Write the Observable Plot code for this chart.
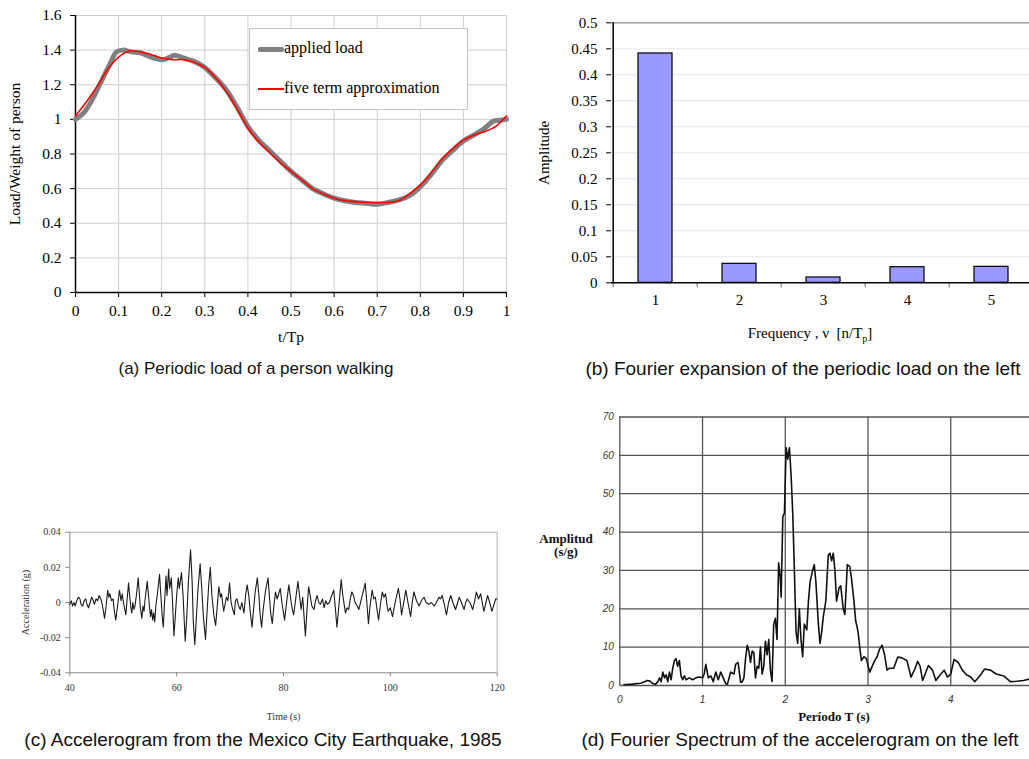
<!DOCTYPE html>
<html><head><meta charset="utf-8">
<script src="https://cdn.jsdelivr.net/npm/d3@7"></script>
<script src="https://cdn.jsdelivr.net/npm/@observablehq/plot@0.6"></script>
<style>
html,body{margin:0;padding:0;background:#fff;overflow:hidden;}
#root{position:relative;width:1029px;height:759px;overflow:hidden;background:#fff;}
.panel{position:absolute;}
.cap{position:absolute;font-family:"Liberation Sans",Arial,sans-serif;font-size:19px;color:#111;white-space:nowrap;transform:translateX(-50%);line-height:20px;}
.serif{font-family:"Liberation Serif","Times New Roman",serif;}
</style></head><body><div id="root"></div>
<script>
// ---------- Panel (a): periodic load ----------
const aTimeApplied = [0,0.02,0.04,0.06,0.08,0.095,0.11,0.13,0.15,0.175,0.2,0.21,0.23,0.25,0.275,0.3,0.325,0.35,0.375,0.4,0.425,0.45,0.475,0.5,0.525,0.55,0.575,0.6,0.625,0.65,0.675,0.7,0.725,0.75,0.775,0.8,0.825,0.85,0.875,0.9,0.925,0.95,0.97,0.985,1.0];
const aApplied     = [1.0,1.04,1.12,1.22,1.32,1.39,1.40,1.39,1.385,1.36,1.345,1.35,1.37,1.355,1.335,1.30,1.24,1.17,1.07,0.96,0.88,0.82,0.76,0.70,0.65,0.60,0.57,0.545,0.53,0.52,0.515,0.51,0.52,0.535,0.56,0.61,0.68,0.76,0.82,0.875,0.91,0.95,0.99,0.995,1.0];
const aTimeApprox  = [0,0.025,0.05,0.075,0.1,0.125,0.15,0.175,0.2,0.225,0.25,0.275,0.3,0.325,0.35,0.375,0.4,0.425,0.45,0.475,0.5,0.525,0.55,0.575,0.6,0.625,0.65,0.675,0.7,0.725,0.75,0.775,0.8,0.825,0.85,0.875,0.9,0.925,0.95,0.975,1.0];
const aApprox      = [1.02,1.10,1.19,1.29,1.36,1.395,1.39,1.375,1.355,1.345,1.345,1.33,1.30,1.24,1.16,1.06,0.95,0.87,0.81,0.75,0.70,0.65,0.60,0.57,0.545,0.53,0.525,0.52,0.52,0.52,0.53,0.57,0.62,0.69,0.77,0.83,0.88,0.91,0.93,0.96,1.02];
const aXTicks = [0,0.1,0.2,0.3,0.4,0.5,0.6,0.7,0.8,0.9,1];
const aYTicks = [0,0.2,0.4,0.6,0.8,1,1.2,1.4,1.6];
const aLegend = ["applied load","five term approximation"];

// ---------- Panel (b): Fourier expansion ----------
const bHarmonics = ["1","2","3","4","5"];
const bAmplitude = [0.441,0.0365,0.0102,0.030,0.0307];
const bYTicks = [0,0.05,0.1,0.15,0.2,0.25,0.3,0.35,0.4,0.45,0.5];

// ---------- Panel (c): accelerogram ----------
const cTime = [40.0,40.3,40.5,40.8,41.0,41.3,41.6,41.9,42.1,42.4,42.7,43.0,43.2,43.5,43.8,44.1,44.4,44.6,44.9,45.2,45.5,45.8,46.0,46.3,46.5,46.8,47.1,47.3,47.5,47.8,48.1,48.3,48.6,48.9,49.1,49.3,49.6,49.8,50.1,50.3,50.5,50.7,51.0,51.2,51.4,51.6,51.8,52.0,52.2,52.5,52.8,53.0,53.2,53.5,53.7,53.9,54.1,54.5,54.7,54.9,55.1,55.3,55.5,55.7,55.9,56.1,56.4,56.8,57.0,57.3,57.5,57.7,58.0,58.2,58.5,58.7,59.0,59.2,59.5,59.7,60.0,60.3,60.5,60.9,61.2,61.6,61.9,62.2,62.6,62.9,63.1,63.4,63.7,64.0,64.4,64.7,65.0,65.4,65.7,66.0,66.3,66.6,67.0,67.3,67.6,67.9,68.2,68.4,68.8,69.0,69.3,69.6,69.9,70.2,70.5,70.8,71.0,71.3,71.6,71.9,72.2,72.6,72.9,73.2,73.5,73.8,74.1,74.4,74.7,75.1,75.4,75.6,75.9,76.2,76.6,77.1,77.4,77.6,77.9,78.2,78.5,78.8,79.0,79.4,79.7,80.2,80.5,81.0,81.3,81.6,81.9,82.2,82.7,83.0,83.3,83.6,83.8,84.1,84.4,84.7,85.0,85.3,85.7,86.0,86.3,86.6,86.9,87.3,87.6,87.9,88.2,88.6,88.9,89.4,89.7,90.0,90.3,90.8,91.1,91.6,91.9,92.2,92.5,92.8,93.1,93.4,93.8,94.1,94.5,95.3,95.6,95.9,96.2,96.6,96.9,97.2,97.5,97.8,98.1,98.5,98.8,99.1,99.4,99.6,100.0,100.4,100.9,101.5,101.8,102.1,102.5,102.9,103.3,103.8,104.1,104.4,104.9,105.4,105.8,106.3,106.7,107.2,107.7,108.2,108.6,109.1,109.4,109.7,110.1,110.5,110.9,111.3,111.7,112.2,112.6,112.9,113.3,113.8,114.1,114.4,114.9,115.4,115.8,116.1,116.5,116.9,117.2,117.5,117.9,118.2,118.6,119.0,119.4,119.7,120.0];
const cAccel = [-0.001,0.001,-0.002,0.000,-0.002,0.001,0.003,0.002,-0.001,-0.002,0.001,0.002,-0.001,-0.003,0.000,0.003,0.001,-0.001,0.002,0.001,0.004,0.002,0.000,-0.005,-0.009,-0.002,0.007,0.003,0.005,0.001,0.002,-0.004,-0.010,-0.003,0.002,0.007,0.001,0.005,-0.001,-0.004,-0.007,0.001,0.011,0.004,-0.002,-0.006,0.000,-0.004,-0.002,0.005,0.014,0.006,-0.003,-0.009,-0.002,-0.005,0.002,0.012,0.005,-0.002,-0.008,-0.004,-0.010,-0.006,-0.011,-0.002,0.005,0.016,0.006,-0.008,-0.014,-0.002,0.015,0.004,0.019,0.008,0.014,0.002,-0.019,-0.010,0.004,0.014,0.008,0.017,0.004,-0.022,-0.008,0.012,0.030,0.012,-0.010,-0.024,-0.008,0.008,0.022,0.008,-0.008,-0.021,-0.005,0.010,0.020,0.004,-0.008,-0.013,-0.002,0.009,0.003,0.005,-0.005,-0.002,0.003,0.001,0.011,0.000,-0.004,-0.007,0.001,0.002,-0.002,-0.004,0.000,-0.006,0.004,0.010,0.004,-0.006,-0.014,-0.004,0.006,0.014,0.004,-0.006,-0.014,-0.004,0.006,0.014,0.002,-0.006,-0.012,-0.002,0.006,0.002,0.004,0.008,0.000,-0.010,-0.002,0.010,0.003,-0.003,-0.007,0.000,0.012,0.004,-0.004,0.003,-0.006,-0.019,-0.004,0.009,0.004,-0.002,-0.004,0.001,0.004,0.000,-0.001,0.002,-0.003,0.001,-0.001,0.000,0.003,0.007,-0.003,-0.014,-0.004,0.013,0.004,-0.006,-0.003,-0.004,0.002,0.006,0.004,0.000,-0.002,-0.004,0.001,0.011,0.000,-0.012,-0.002,0.007,0.002,0.003,-0.004,-0.010,-0.002,0.006,0.003,0.005,-0.002,-0.005,-0.003,-0.008,0.000,0.008,0.002,-0.007,0.000,0.007,0.000,-0.008,0.000,0.006,0.001,-0.002,0.001,0.003,0.000,-0.001,0.000,-0.002,0.000,0.003,0.002,0.004,-0.001,-0.007,0.000,0.004,0.000,-0.004,0.000,0.003,0.000,-0.004,0.000,0.002,0.000,-0.004,0.001,0.006,0.002,0.005,0.000,-0.005,0.000,0.004,0.000,-0.005,-0.001,0.002,0.002];
const cXTicks = [40,60,80,100,120];
const cYTicks = [-0.04,-0.02,0,0.02,0.04];
const cYLabels = ["-0.04","-0.02","0","0.02","0.04"];

// ---------- Panel (d): Fourier spectrum ----------
const dPeriod = [0.05,0.1,0.15,0.2,0.25,0.3,0.33,0.36,0.4,0.43,0.46,0.48,0.5,0.52,0.54,0.56,0.58,0.6,0.62,0.64,0.66,0.68,0.7,0.72,0.74,0.76,0.78,0.8,0.84,0.88,0.92,0.96,1.0,1.02,1.04,1.07,1.1,1.13,1.16,1.19,1.22,1.25,1.28,1.3,1.34,1.38,1.4,1.43,1.46,1.48,1.5,1.52,1.54,1.56,1.58,1.6,1.62,1.64,1.66,1.68,1.7,1.72,1.74,1.76,1.78,1.8,1.82,1.84,1.86,1.88,1.9,1.92,1.94,1.95,1.97,1.99,2.01,2.03,2.05,2.07,2.09,2.11,2.13,2.15,2.17,2.19,2.21,2.23,2.26,2.28,2.3,2.33,2.35,2.37,2.4,2.42,2.44,2.46,2.49,2.52,2.54,2.56,2.58,2.6,2.62,2.65,2.67,2.7,2.72,2.75,2.78,2.8,2.83,2.85,2.88,2.9,2.92,2.95,2.98,3.02,3.05,3.08,3.11,3.14,3.17,3.2,3.23,3.26,3.31,3.36,3.41,3.47,3.52,3.56,3.6,3.63,3.66,3.69,3.73,3.78,3.82,3.86,3.92,3.96,4.0,4.04,4.09,4.14,4.19,4.24,4.29,4.35,4.41,4.48,4.55,4.64,4.72,4.8,4.88,4.95,5.0];
const dAmp = [0.2,0.3,0.3,0.5,0.6,1.0,1.3,1.2,0.5,0.3,1.0,2.0,1.0,3.5,2.0,2.8,1.0,3.5,1.5,4.5,6.5,7.0,5.0,6.5,2.5,1.5,2.5,1.5,2.0,1.5,2.0,2.2,2.0,3.0,5.5,2.0,2.5,1.0,3.5,1.5,3.5,2.0,0.5,0.3,3.5,3.0,5.5,6.0,0.8,1.0,2.0,7.0,10.5,9.0,6.0,9.0,8.5,2.0,5.0,4.5,10.0,3.0,5.0,11.5,8.0,12.0,4.0,1.0,16.0,17.5,12.0,32.0,28.0,23.0,44.0,45.0,62.0,59.0,62.0,55.0,45.0,30.0,14.0,11.0,20.0,12.0,7.5,16.0,14.5,22.0,27.0,30.0,31.5,27.0,16.0,11.0,14.0,18.0,22.0,34.0,34.5,32.5,34.5,30.0,22.0,25.5,26.0,20.0,18.5,31.5,31.0,28.0,22.0,17.0,14.0,10.0,6.5,7.5,7.0,3.5,5.0,6.5,7.5,9.5,10.5,8.0,4.0,4.5,4.5,7.4,7.2,6.5,2.2,4.0,6.3,5.0,1.3,3.0,5.2,4.0,1.3,2.5,4.0,2.2,3.0,6.8,6.0,4.0,2.8,2.2,1.0,2.5,4.3,4.0,3.0,2.5,1.0,1.1,1.3,1.7,2.2,2.3];
const dGrid = [0,1,2,3,4,5];
const dXTicks = [0,1,2,3,4];
const dYTicks = [0,10,20,30,40,50,60,70];

const root = document.getElementById("root");
function place(node, left, top) {
  node.classList.add("panel");
  node.style.left = left + "px";
  node.style.top = top + "px";
  root.appendChild(node);
  return node;
}
function html(tag, cls, style, inner) {
  const el = document.createElement(tag);
  if (cls) el.className = cls;
  el.setAttribute("style", style);
  el.innerHTML = inner;
  root.appendChild(el);
  return el;
}
const serif = '"Liberation Serif","Times New Roman",serif';
const sans = '"Liberation Sans",Arial,sans-serif';

// ---- (a)
const appliedData = aTimeApplied.map((t, i) => ({t, v: aApplied[i]}));
const approxData = aTimeApprox.map((t, i) => ({t, v: aApprox[i]}));
const chartA = Plot.plot({
  width: 520, height: 345,
  marginLeft: 75, marginRight: 14, marginTop: 15, marginBottom: 53,
  style: {fontFamily: serif, fontSize: "15px", color: "#000", background: "none", overflow: "visible"},
  x: {domain: [0, 1]},
  y: {domain: [0, 1.6]},
  marks: [
    Plot.gridX(aXTicks, {stroke: "#cfcfcf", strokeOpacity: 1}),
    Plot.gridY(aYTicks, {stroke: "#cfcfcf", strokeOpacity: 1}),
    Plot.axisX({ticks: aXTicks, tickFormat: d => String(d), tickSize: 5, tickPadding: 7, fontSize: 15.5, label: "t/Tp", labelAnchor: "center", labelOffset: 49, labelArrow: "none"}),
    Plot.axisY({ticks: aYTicks, tickFormat: d => String(d), tickSize: 5, tickPadding: 9, fontSize: 15.5, label: "Load/Weight of person", labelAnchor: "center", labelOffset: 67, labelArrow: "none"}),
    Plot.ruleX([0], {stroke: "#000", strokeWidth: 1.5}),
    Plot.ruleY([0], {stroke: "#000", strokeWidth: 1.5}),
    Plot.line(appliedData, {x: "t", y: "v", stroke: "#808080", strokeWidth: 5, curve: "catmull-rom"}),
    Plot.line(approxData, {x: "t", y: "v", stroke: "#ff0000", strokeWidth: 1.6, curve: "catmull-rom"})
  ]
});
place(chartA, 0, 0);
// legend (a)
html("div", "serif", "position:absolute;left:249px;top:28px;width:217px;height:80px;border:1px solid #c4c4c4;background:#fff;", "");
html("div", "", "position:absolute;left:258px;top:47px;width:26px;height:5px;background:#808080;border-radius:2px;", "");
html("div", "serif", "position:absolute;left:284px;top:38px;font-size:16px;line-height:20px;color:#000;white-space:nowrap;", aLegend[0]);
html("div", "", "position:absolute;left:258px;top:88px;width:26px;height:1.6px;background:#ff0000;", "");
html("div", "serif", "position:absolute;left:284px;top:78px;font-size:16px;line-height:20px;color:#000;white-space:nowrap;", aLegend[1]);

// ---- (b)
const bData = bHarmonics.map((h, i) => ({h, a: bAmplitude[i]}));
const chartB = Plot.plot({
  width: 520, height: 345,
  marginLeft: 91, marginRight: 6.4, marginTop: 22.3, marginBottom: 62.7,
  style: {fontFamily: serif, fontSize: "15px", color: "#000", background: "none", overflow: "visible"},
  x: {domain: bHarmonics, paddingInner: 0.6, paddingOuter: 0.3},
  y: {domain: [0, 0.5]},
  marks: [
    Plot.gridY(bYTicks.slice(1, -1), {stroke: "#e6e6e6", strokeOpacity: 1}),
    Plot.ruleY([0.5], {stroke: "#8c8c8c", strokeWidth: 1.2}),
    Plot.barY(bData, {x: "h", y: "a", fill: "#9999ff", stroke: "#000", strokeWidth: 1.2}),
    Plot.axisX({tickSize: 0, tickPadding: 12, label: null}),
    Plot.axisX({tickSize: 5, tickFormat: () => "", dx: -42.3, stroke: "#666", label: null}),
    Plot.axisY({ticks: bYTicks, tickFormat: d => String(d), tickSize: 5, tickPadding: 9, label: "Amplitude", labelAnchor: "center", labelOffset: 73, labelArrow: "none"}),
    Plot.ruleY([0], {stroke: "#000", strokeWidth: 1.5}),
    Plot.ruleX([0], {x: () => bHarmonics[0], dx: -42.3, y1: 0, y2: 0.5, stroke: "#000", strokeWidth: 1.5})
  ]
});
place(chartB, 520, 0);
html("div", "serif", "position:absolute;left:810px;top:324px;transform:translateX(-50%);font-size:15px;line-height:18px;white-space:nowrap;color:#000;", "Frequency , &nu;&nbsp; [n/T<sub style='font-size:10px'>p</sub>]");

// ---- (c)
const cData = cTime.map((t, i) => ({t, a: cAccel[i]}));
const chartC = Plot.plot({
  width: 520, height: 230,
  marginLeft: 69.3, marginRight: 23.3, marginTop: 31.7, marginBottom: 57.7,
  style: {fontFamily: serif, fontSize: "10px", color: "#333", background: "none", overflow: "visible"},
  x: {domain: [40, 120]},
  y: {domain: [-0.04, 0.04]},
  marks: [
    Plot.ruleY([0.04], {stroke: "#b0b0b0"}),
    Plot.ruleX([120], {stroke: "#b0b0b0"}),
    Plot.axisX({ticks: cXTicks, tickSize: 4, tickPadding: 7, stroke: "#888", label: "Time (s)", labelAnchor: "center", labelOffset: 47, labelArrow: "none"}),
    Plot.axisY({ticks: cYTicks, tickFormat: (d, i) => cYLabels[i], tickSize: 4, tickPadding: 5, stroke: "#888", label: "Acceleration (g)", labelAnchor: "center", labelOffset: 48, labelArrow: "none", fontSize: 10}),
    Plot.ruleX([40], {stroke: "#888"}),
    Plot.ruleY([-0.04], {stroke: "#888"}),
    Plot.line(cData, {x: "t", y: "a", stroke: "#1a1a1a", strokeWidth: 1.1})
  ]
});
place(chartC, 0, 500);

// ---- (d)
const dData = dPeriod.map((p, i) => ({p, a: dAmp[i]}));
const chartD = Plot.plot({
  width: 520, height: 330,
  marginLeft: 79.3, marginRight: 27, marginTop: 16.5, marginBottom: 45,
  style: {fontFamily: sans, fontSize: "10px", color: "#333", background: "none", overflow: "visible"},
  x: {domain: [0, 5]},
  y: {domain: [0, 70]},
  marks: [
    Plot.gridX(dGrid, {stroke: "#555", strokeOpacity: 1, strokeWidth: 1.3}),
    Plot.gridY(dYTicks, {stroke: "#555", strokeOpacity: 1, strokeWidth: 1.3}),
    Plot.axisX({ticks: dXTicks, tickFormat: d => String(d), tickSize: 0, tickPadding: 10, fontStyle: "italic", label: null}),
    Plot.axisY({ticks: dYTicks, tickFormat: d => String(d), tickSize: 0, tickPadding: 6, fontStyle: "italic", label: null}),
    Plot.line(dData, {x: "p", y: "a", stroke: "#111", strokeWidth: 1.6})
  ]
});
place(chartD, 540, 400);
html("div", "serif", "position:absolute;left:566px;top:532px;transform:translateX(-50%);text-align:center;font-size:13px;font-weight:bold;line-height:13px;color:#111;white-space:nowrap;", "Amplitud<br>(s/g)");
html("div", "serif", "position:absolute;left:834px;top:709px;transform:translateX(-50%);font-size:13px;font-weight:bold;line-height:15px;color:#111;white-space:nowrap;", "Período T (s)");

// ---- captions
html("div", "cap", "left:256px;top:359px;font-size:17px;", "(a) Periodic load of a person walking");
html("div", "cap", "left:803px;top:359px;", "(b) Fourier expansion of the periodic load on the left");
html("div", "cap", "left:263px;top:730px;", "(c) Accelerogram from the Mexico City Earthquake, 1985");
html("div", "cap", "left:800px;top:730px;", "(d) Fourier Spectrum of the accelerogram on the left");
</script></body></html>
